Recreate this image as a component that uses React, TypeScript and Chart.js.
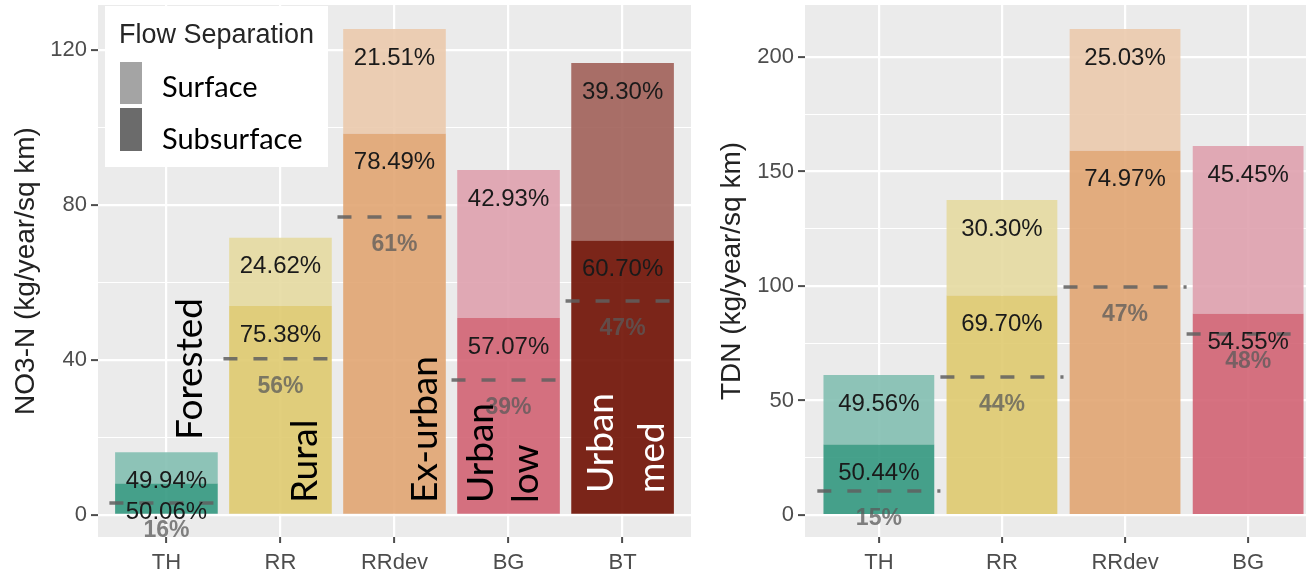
import React, { useEffect, useRef } from "react";
import { Chart, registerables } from "chart.js";
Chart.register(...registerables);

// ---------- Left panel data (NO3-N) ----------
const CATS_L = ["TH", "RR", "RRdev", "BG", "BT"];
const SUB_L = [8.11, 53.9, 98.4, 50.8, 70.8];
const SURF_L = [8.09, 17.6, 27.0, 38.2, 45.8];
const SUB_PCT_L = ["50.06%", "75.38%", "78.49%", "57.07%", "60.70%"];
const SURF_PCT_L = ["49.94%", "24.62%", "21.51%", "42.93%", "39.30%"];
const REF_L = [3.1, 40.3, 76.9, 34.8, 55.2];
const REF_PCT_L = ["16%", "56%", "61%", "39%", "47%"];
const Y_TICKS_L = [0, 20, 40, 60, 80, 100, 120];
const Y_LABELED_L = [0, 40, 80, 120];

// ---------- Right panel data (TDN) ----------
const CATS_R = ["TH", "RR", "RRdev", "BG"];
const SUB_R = [30.8, 95.9, 159.1, 87.9];
const SURF_R = [30.3, 41.7, 53.1, 73.2];
const SUB_PCT_R = ["50.44%", "69.70%", "74.97%", "54.55%"];
const SURF_PCT_R = ["49.56%", "30.30%", "25.03%", "45.45%"];
const REF_R = [10.5, 60.3, 99.6, 79.0];
const REF_PCT_R = ["15%", "44%", "47%", "48%"];
const Y_TICKS_R = [0, 25, 50, 75, 100, 125, 150, 175, 200];
const Y_LABELED_R = [0, 50, 100, 150, 200];

const LEGEND_LABELS = ["Surface", "Subsurface"];
const LAND_USE_L = [
  { text: "Forested", cat: 0 },
  { text: "Rural", cat: 1 },
  { text: "Ex-urban", cat: 2 },
  { text: "Urban", cat: 3 },
  { text: "low", cat: 3 },
  { text: "Urban", cat: 4 },
  { text: "med", cat: 4 },
];

// ---------- Styles ----------
const SUB_COLORS = [
  "rgba(51,152,128,0.9)",
  "rgba(223,202,111,0.9)",
  "rgba(225,165,114,0.9)",
  "rgba(209,99,115,0.9)",
  "rgba(111,16,2,0.9)",
];
const SURF_COLORS = [
  "rgba(131,191,177,0.9)",
  "rgba(229,218,161,0.9)",
  "rgba(235,202,173,0.9)",
  "rgba(223,161,174,0.9)",
  "rgba(161,97,89,0.9)",
];
// offsets (px) of overlay labels from category centre / zero line
const LAND_USE_STYLE = [
  { dx: 36, dy: -75, color: "#000" },
  { dx: 37, dy: -12, color: "#000" },
  { dx: 42, dy: -12, color: "#000" },
  { dx: -16, dy: -12, color: "#000" },
  { dx: 29, dy: -12, color: "#000" },
  { dx: -10, dy: -22, color: "#fff" },
  { dx: 41, dy: -22, color: "#fff" },
];

const GG_FONT = '"Liberation Sans", Arial, sans-serif';
const PPT_FONT = 'Lato, "Open Sans", sans-serif';

type Panel = {
  cats: string[];
  sub: number[];
  surf: number[];
  subPct: string[];
  surfPct: string[];
  ref: number[];
  refPct: string[];
  yTicks: number[];
  yLabeled: number[];
  yMin: number;
  yMax: number;
  yTitle: string;
  axisW: number;
  titlePad: number;
  legend: boolean;
  overlays: { text: string; cat: number }[];
};

function zeroPad(s: any) {
  s.paddingTop = 0;
  s.paddingBottom = 0;
  s.paddingLeft = 0;
  s.paddingRight = 0;
}

function makeChart(canvas: HTMLCanvasElement, p: Panel) {
  const n = p.cats.length;
  const refData: { x: number; y: number | null }[] = [];
  p.ref.forEach((r, i) => {
    refData.push({ x: i - 0.5, y: r }, { x: i + 0.5, y: r }, { x: i + 0.5, y: null });
  });

  const plugin = {
    id: "ggdecor",
    beforeDraw(chart: any) {
      const { ctx, chartArea: a } = chart;
      ctx.save();
      ctx.fillStyle = "#EBEBEB";
      ctx.fillRect(a.left, a.top, a.right - a.left, a.bottom - a.top);
      ctx.restore();
    },
    afterDatasetsDraw(chart: any) {
      const { ctx } = chart;
      const x = chart.scales.x;
      const y = chart.scales.y;
      ctx.save();
      ctx.textAlign = "center";
      ctx.textBaseline = "middle";
      ctx.font = `bold 23px ${GG_FONT}`;
      ctx.fillStyle = "rgba(90,90,90,0.75)";
      p.ref.forEach((r, i) => {
        ctx.fillText(p.refPct[i], x.getPixelForValue(i), y.getPixelForValue(r) + 28);
      });
      ctx.font = `24px ${GG_FONT}`;
      ctx.fillStyle = "#1a1a1a";
      p.cats.forEach((_, i) => {
        const cx = x.getPixelForValue(i);
        ctx.fillText(p.surfPct[i], cx, y.getPixelForValue(p.sub[i] + p.surf[i]) + 29);
        ctx.fillText(p.subPct[i], cx, y.getPixelForValue(p.sub[i]) + 29);
      });
      ctx.restore();
    },
    afterDraw(chart: any) {
      const { ctx } = chart;
      const x = chart.scales.x;
      const y = chart.scales.y;
      ctx.save();
      // land-use overlay labels
      ctx.font = `37px ${PPT_FONT}`;
      ctx.textAlign = "left";
      ctx.textBaseline = "alphabetic";
      p.overlays.forEach((o, k) => {
        const st = LAND_USE_STYLE[k];
        ctx.save();
        ctx.translate(x.getPixelForValue(o.cat) + st.dx, y.getPixelForValue(0) + st.dy);
        ctx.rotate(-Math.PI / 2);
        ctx.fillStyle = st.color;
        ctx.fillText(o.text, 0, 0);
        ctx.restore();
      });
      if (p.legend) {
        ctx.fillStyle = "#ffffff";
        ctx.fillRect(105, 6, 223, 161);
        ctx.fillStyle = "#262626";
        ctx.font = `27px ${GG_FONT}`;
        ctx.textBaseline = "middle";
        ctx.fillText("Flow Separation", 119, 36);
        ctx.fillStyle = "#A4A4A4";
        ctx.fillRect(120, 62, 22, 42);
        ctx.fillStyle = "#6B6B6B";
        ctx.fillRect(120, 108, 22, 43);
        ctx.fillStyle = "#000";
        ctx.font = `29px ${PPT_FONT}`;
        ctx.fillText(LEGEND_LABELS[0], 162, 88);
        ctx.fillText(LEGEND_LABELS[1], 162, 140);
      }
      ctx.restore();
    },
  };

  return new Chart(canvas, {
    type: "bar",
    data: {
      datasets: [
        {
          type: "line",
          label: "reference",
          data: refData as any,
          borderColor: "rgba(95,95,95,0.85)",
          borderWidth: 3.5,
          borderDash: [14, 16],
          borderCapStyle: "butt",
          pointRadius: 0,
          spanGaps: false,
          order: 0,
        } as any,
        {
          label: LEGEND_LABELS[1],
          data: p.sub.map((v, i) => ({ x: i, y: v })) as any,
          backgroundColor: SUB_COLORS.slice(0, n),
          stack: "s",
          order: 1,
        },
        {
          label: LEGEND_LABELS[0],
          data: p.surf.map((v, i) => ({ x: i, y: v })) as any,
          backgroundColor: SURF_COLORS.slice(0, n),
          stack: "s",
          order: 1,
        },
      ],
    },
    options: {
      animation: false,
      responsive: true,
      maintainAspectRatio: false,
      layout: { padding: { top: 5, left: 0, right: 0, bottom: 0 } },
      plugins: { legend: { display: false }, tooltip: { enabled: false } },
      datasets: { bar: { barPercentage: 0.9, categoryPercentage: 1, borderWidth: 0 } } as any,
      scales: {
        x: {
          type: "linear",
          min: -0.6,
          max: n - 1 + 0.6,
          stacked: true,
          offset: false,
          afterBuildTicks: (s: any) => {
            s.ticks = p.cats.map((_, i) => ({ value: i }));
          },
          afterFit: (s: any) => {
            s.height = 40;
            zeroPad(s);
          },
          ticks: {
            callback: (v: any) => p.cats[Math.round(v)] ?? "",
            font: { family: GG_FONT, size: 22 },
            color: "#4d4d4d",
            padding: 7,
            autoSkip: false,
            maxRotation: 0,
          },
          grid: {
            offset: false,
            color: "#ffffff",
            lineWidth: 2.2,
            tickLength: 6,
            tickColor: "#4d4d4d",
            tickWidth: 2,
          },
          border: { display: false },
        },
        y: {
          type: "linear",
          min: p.yMin,
          max: p.yMax,
          stacked: true,
          afterBuildTicks: (s: any) => {
            s.ticks = p.yTicks.map((v) => ({ value: v }));
          },
          afterFit: (s: any) => {
            s.width = p.axisW;
            zeroPad(s);
          },
          ticks: {
            callback: (v: any) => (p.yLabeled.includes(v) ? String(v) : ""),
            font: { family: GG_FONT, size: 22 },
            color: "#4d4d4d",
            padding: 4,
            autoSkip: false,
          },
          grid: {
            offset: false,
            color: "#ffffff",
            lineWidth: (c: any) => (p.yLabeled.includes(c.tick?.value) ? 2.2 : 1.1),
            tickLength: 7,
            tickColor: (c: any) => (p.yLabeled.includes(c.tick?.value) ? "#4d4d4d" : "rgba(0,0,0,0)"),
            tickWidth: 2,
          },
          border: { display: false },
          title: {
            display: true,
            text: p.yTitle,
            font: { family: GG_FONT, size: 28 },
            color: "#222",
            padding: { top: p.titlePad, bottom: 0 },
          },
        },
      },
    },
    plugins: [plugin],
  } as any);
}

const LEFT: Panel = {
  cats: CATS_L,
  sub: SUB_L,
  surf: SURF_L,
  subPct: SUB_PCT_L,
  surfPct: SURF_PCT_L,
  ref: REF_L,
  refPct: REF_PCT_L,
  yTicks: Y_TICKS_L,
  yLabeled: Y_LABELED_L,
  yMin: -5.7,
  yMax: 131.6,
  yTitle: "NO3-N (kg/year/sq km)",
  axisW: 98,
  titlePad: 9,
  legend: true,
  overlays: LAND_USE_L,
};

const RIGHT: Panel = {
  cats: CATS_R,
  sub: SUB_R,
  surf: SURF_R,
  subPct: SUB_PCT_R,
  surfPct: SURF_PCT_R,
  ref: REF_R,
  refPct: REF_PCT_R,
  yTicks: Y_TICKS_R,
  yLabeled: Y_LABELED_R,
  yMin: -9.6,
  yMax: 222.7,
  yTitle: "TDN (kg/year/sq km)",
  axisW: 105,
  titlePad: 15,
  legend: false,
  overlays: [],
};

export default function App() {
  const lRef = useRef<HTMLCanvasElement>(null);
  const rRef = useRef<HTMLCanvasElement>(null);
  useEffect(() => {
    const a = makeChart(lRef.current!, LEFT);
    const b = makeChart(rRef.current!, RIGHT);
    return () => {
      a.destroy();
      b.destroy();
    };
  }, []);
  return (
    <div
      style={{
        position: "fixed",
        left: 0,
        top: 0,
        width: 1306,
        height: 577,
        overflow: "hidden",
        background: "#fff",
      }}
    >
      <div style={{ position: "absolute", left: 0, top: 0, width: 691, height: 577 }}>
        <canvas ref={lRef} />
      </div>
      <div style={{ position: "absolute", left: 700, top: 0, width: 622, height: 577 }}>
        <canvas ref={rRef} />
      </div>
    </div>
  );
}
